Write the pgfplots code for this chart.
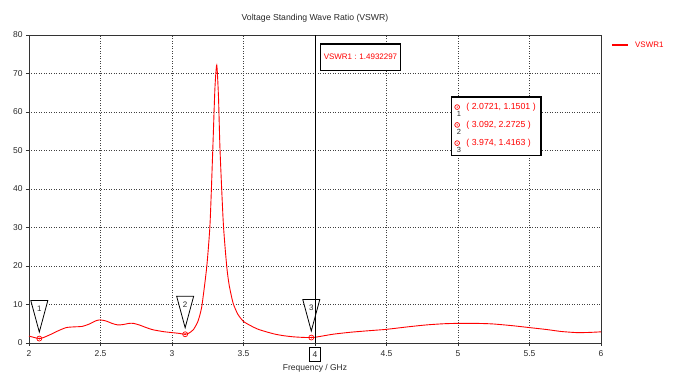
\documentclass[border=0pt]{standalone}
\usepackage{pgfplots}
\pgfplotsset{compat=1.18}
\usepackage{fontspec}
\setmainfont{Liberation Sans}
\definecolor{txt}{RGB}{40,40,40}
\newcommand{\mtri}[3]{%
  \draw[black, line width=0.8pt, fill=white]
    ([yshift=6.5bp]axis cs:#1,#2) -- ([xshift=-8.5bp,yshift=38bp]axis cs:#1,#2)
    -- ([xshift=8.5bp,yshift=38bp]axis cs:#1,#2) -- cycle;
  \node[font=\fontsize{8}{9}\selectfont, text=txt] at ([yshift=30bp]axis cs:#1,#2) {#3};
}
\newcommand{\mrow}[4]{%
  \draw[red, line width=0.7pt] (rel axis cs:0.7485,#1) circle (2.4bp);
  \fill[red] (rel axis cs:0.7485,#1) circle (0.7bp);
  \node[font=\fontsize{7.5}{8}\selectfont, text=txt, inner sep=0pt] at (rel axis cs:0.7515,#2) {#3};
  \node[font=\fontsize{8.8}{10}\selectfont, text=red, anchor=west, inner sep=0pt] at (rel axis cs:0.7645,#1) {#4};
}
\begin{document}
\begin{tikzpicture}
\useasboundingbox (0,0) rectangle (676bp,385bp);
\begin{axis}[
  at={(29bp,42bp)}, anchor=south west,
  scale only axis, width=572bp, height=308bp,
  xmin=2, xmax=6, ymin=0, ymax=80,
  xtick={2,2.5,3,3.5,4.5,5,5.5,6},
  xticklabels={2,2.5,3,3.5,4.5,5,5.5,6},
  extra x ticks={4},
  extra x tick labels={4},
  extra x tick style={grid=none, tick label style={draw=black, line width=0.6pt, inner xsep=3bp, inner ysep=4bp, yshift=-0.5bp}},
  ytick={0,10,...,80},
  grid=major,
  major grid style={black!75, line width=0.5pt, dash pattern=on 1pt off 1.5pt},
  axis line style={black!80, line width=0.7pt},
  tick align=outside, major tick length=3bp,
  xtick pos=bottom, ytick pos=left,
  tick style={black!80},
  /pgf/number format/assume math mode=true,
  tick label style={font=\fontsize{8.5}{10}\selectfont, text=txt},
  xticklabel style={yshift=-1bp},
  title={Voltage Standing Wave Ratio (VSWR)},
  title style={font=\fontsize{8.7}{10}\selectfont, text=txt, at={(0.5,1)}, yshift=3bp},
  xlabel={Frequency / GHz},
  xlabel style={font=\fontsize{8.5}{10}\selectfont, text=txt, yshift=5bp},
  clip=false,
]
\addplot[red, line width=0.9pt, smooth, tension=0.4] coordinates {
(2.00,1.8) (2.04,1.4) (2.0721,1.15) (2.10,1.4) (2.15,2.2) (2.20,3.1) (2.26,4.0)
(2.32,4.2) (2.37,4.3) (2.42,4.9) (2.47,5.8) (2.50,6.0) (2.54,5.7) (2.58,5.1)
(2.62,4.7) (2.66,4.8) (2.70,5.1) (2.73,5.1) (2.77,4.7) (2.82,4.0) (2.86,3.5)
(2.90,3.2) (2.95,2.9) (3.00,2.7) (3.05,2.5) (3.092,2.27) (3.12,2.6) (3.15,3.5)
(3.18,5.5) (3.20,8.0) (3.212,10.4) (3.243,19.8) (3.266,31) (3.285,50) (3.30,66)
(3.313,72.2) (3.325,64) (3.336,50) (3.359,31) (3.383,19.8) (3.40,15) (3.427,10.4)
(3.46,7.5) (3.50,5.6) (3.55,4.5) (3.60,3.6) (3.66,2.9) (3.72,2.3) (3.78,1.9)
(3.85,1.6) (3.92,1.45) (3.974,1.42) (4.00,1.49) (4.05,1.8) (4.13,2.3) (4.25,2.8)
(4.38,3.2) (4.50,3.55) (4.65,4.2) (4.78,4.7) (4.90,5.0) (5.00,5.1) (5.12,5.1)
(5.24,4.96) (5.38,4.5) (5.50,4.0) (5.62,3.5) (5.72,3.0) (5.83,2.7) (5.92,2.75)
(6.00,2.9)};
\addplot[forget plot, only marks, red, mark=o, mark size=2.5pt, line width=0.7pt]
  coordinates {(2.0721,1.1501) (3.092,2.2725) (3.974,1.4163)};
\addplot[forget plot, only marks, red, mark=*, mark size=0.7pt]
  coordinates {(2.0721,1.1501) (3.092,2.2725) (3.974,1.4163)};
\mtri{2.0721}{1.1501}{1}
\mtri{3.092}{2.2725}{2}
\mtri{3.974}{1.4163}{3}
\draw[black, line width=0.9pt] (axis cs:4,0) -- (axis cs:4,80);
\draw[black, line width=1.2pt, fill=white] (rel axis cs:0.509,0.971) rectangle (rel axis cs:0.650,0.886);
\node[font=\fontsize{8}{9}\selectfont, text=red] at (rel axis cs:0.5795,0.9286) {VSWR1 : 1.4932297};
\draw[black, line width=1.2pt, fill=white] (rel axis cs:0.738,0.799) rectangle (rel axis cs:0.895,0.610);
\mrow{0.766}{0.745}{1}{( 2.0721, 1.1501 )}
\mrow{0.708}{0.686}{2}{( 3.092, 2.2725 )}
\mrow{0.649}{0.628}{3}{( 3.974, 1.4163 )}
% legend
\draw[red, line width=1.3pt] (rel axis cs:1.0192,0.9675) -- (rel axis cs:1.0472,0.9675);
\node[font=\fontsize{8}{9}\selectfont, text=red, anchor=west, inner sep=0pt] at (rel axis cs:1.0594,0.9675) {VSWR1};
\end{axis}
\end{tikzpicture}
\end{document}
